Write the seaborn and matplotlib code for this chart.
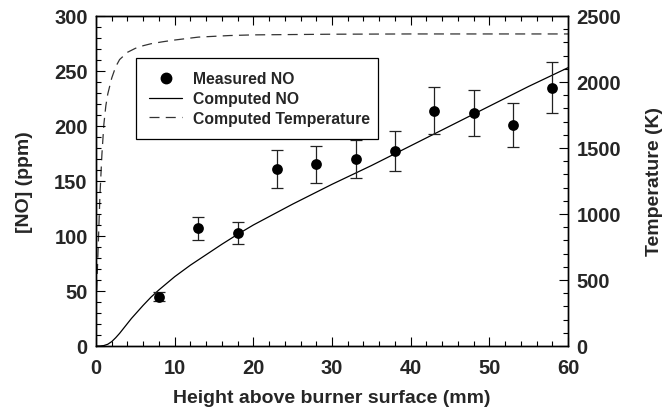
import numpy as np
import pandas as pd
import matplotlib
matplotlib.use("Agg")
import matplotlib.pyplot as plt
from matplotlib.lines import Line2D
from matplotlib.ticker import MultipleLocator
import seaborn as sns

# ---- data ----
meas_x = [8, 13, 18, 23, 28, 33, 38, 43, 48, 53, 58]
meas_no = [45, 107, 103, 161, 165, 170, 177, 214, 212, 201, 235]
meas_err = [4.5, 10.5, 10, 17, 16.5, 17, 18, 21.5, 21, 20, 23.5]

comp_x = [0, 0.5, 1, 1.5, 2, 2.5, 3, 3.5, 4, 4.5, 5, 6, 7, 8, 9, 10, 12, 14, 16, 18, 20, 25, 30, 35, 40, 45, 50, 55, 60]
comp_no = [0, 0, 0.4, 1.6, 4, 7.5, 11.5, 16, 20.5, 25, 29, 37, 44.5, 51, 57, 63, 73.5, 83, 92.5, 101.5, 110, 129, 147, 164, 182, 200, 218, 236, 253]

temp_x = [0, 0.1, 0.25, 0.5, 0.75, 1, 1.25, 1.5, 2, 2.5, 3, 4, 5, 6, 7, 8.5, 10, 13, 17, 20, 30, 40, 50, 60]
temp_k = [300, 450, 700, 1140, 1450, 1680, 1820, 1910, 2030, 2115, 2170, 2225, 2255, 2275, 2290, 2305, 2318, 2340, 2352, 2357, 2362, 2364, 2364, 2364]

x_ticks = [0, 10, 20, 30, 40, 50, 60]
no_ticks = [0, 50, 100, 150, 200, 250, 300]
t_ticks = [0, 500, 1000, 1500, 2000, 2500]

sns.set_theme(style="ticks")
plt.rcParams['font.family'] = ['Liberation Sans', 'DejaVu Sans']
plt.rcParams['font.weight'] = 'bold'

fig = plt.figure(figsize=(6.72, 4.10), dpi=100)
ax = fig.add_axes([96 / 672, 1 - 347 / 410, (568 - 96) / 672, (347 - 17) / 410])
ax2 = ax.twinx()

meas_df = pd.DataFrame({"x": meas_x, "no": meas_no})
comp_df = pd.DataFrame({"x": comp_x, "no": comp_no})
temp_df = pd.DataFrame({"x": temp_x, "t": temp_k})

ax.errorbar(meas_x, meas_no, yerr=meas_err, fmt='none', ecolor='#222222',
            elinewidth=0.9, capsize=4.5, capthick=0.9, zorder=3)
sns.scatterplot(data=meas_df, x="x", y="no", ax=ax, color='black', s=60,
                edgecolor='black', linewidth=0, zorder=4)
sns.lineplot(data=comp_df, x="x", y="no", ax=ax, color='black', linewidth=0.9,
             estimator=None, sort=True, zorder=2)
sns.lineplot(data=temp_df, x="x", y="t", ax=ax2, color='#333333', linewidth=0.9,
             estimator=None, sort=True, dashes=False)
ax2.lines[0].set_dashes((8, 5))

ax.set_xlim(0, 60)
ax.set_ylim(0, 300)
ax2.set_ylim(0, 2500)
ax.set_xticks(x_ticks)
ax.set_yticks(no_ticks)
ax2.set_yticks(t_ticks)
ax.xaxis.set_minor_locator(MultipleLocator(2))
ax.yaxis.set_minor_locator(MultipleLocator(10))
ax2.yaxis.set_minor_locator(MultipleLocator(100))

fs = 14.5
ax.tick_params(axis='x', which='both', direction='in', top=True, bottom=True,
               labelsize=fs, pad=8.5, width=0.8, color='black')
ax.tick_params(axis='y', which='both', direction='in', left=True, right=False,
               labelsize=fs, pad=6, width=0.8, color='black')
ax2.tick_params(axis='y', which='both', direction='in', left=False, right=True,
                labelsize=fs, pad=6, width=0.8, color='black')
for a in (ax, ax2):
    a.tick_params(which='major', length=6.5)
    a.tick_params(which='minor', length=3.3)
    for lab in a.get_xticklabels() + a.get_yticklabels():
        lab.set_fontweight('bold')
    for s in a.spines.values():
        s.set_linewidth(1.0)
        s.set_color('black')
        s.set_visible(True)

ax.set_xlabel("Height above burner surface (mm)", fontsize=14, fontweight='bold', labelpad=9)
ax.set_ylabel("[NO] (ppm)", fontsize=14, fontweight='bold', labelpad=15)
ax2.set_ylabel("Temperature (K)", fontsize=14, fontweight='bold', labelpad=18)

handles = [
    Line2D([], [], marker='o', linestyle='none', color='black', markersize=7.5),
    Line2D([], [], color='black', linewidth=0.9),
    Line2D([], [], color='#333333', linewidth=0.9, dashes=(8, 5)),
]
labels = ["Measured NO", "Computed NO", "Computed Temperature"]
leg = ax.legend(handles, labels, loc='upper left',
                bbox_to_anchor=(40 / 472, 0, 242 / 472, 1 - 42 / 330), mode='expand',
                frameon=True, fancybox=False, edgecolor='black', framealpha=1,
                prop={'weight': 'bold', 'size': 11.3}, handlelength=2.07,
                handletextpad=0.7, borderpad=0.85, labelspacing=0.3, borderaxespad=0)
leg.get_frame().set_linewidth(0.9)
if ax2.get_legend() is not None:
    ax2.get_legend().remove()
ax.set_zorder(ax2.get_zorder() + 1)
ax.patch.set_visible(False)

fig.savefig("out.png", dpi=100)
